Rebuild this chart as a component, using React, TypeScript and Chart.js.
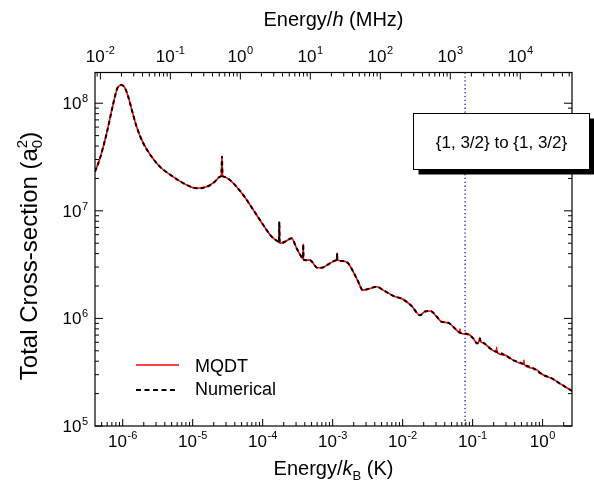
import React, { useEffect, useRef } from "react";
import { Chart, registerables } from "chart.js";

Chart.register(...registerables);

// ---------- data ----------
const energyK = [
  4.02e-7, 4.74e-7, 5.9e-7, 7.35e-7, 8.38e-7, 9.0e-7, 9.5e-7, 1.02e-6, 1.08e-6, 1.2e-6,
  1.35e-6, 1.58e-6, 1.97e-6, 2.59e-6, 3.41e-6, 5.28e-6, 8.2e-6, 1.14e-5, 1.58e-5, 2.08e-5,
  2.45e-5, 2.57e-5, 2.62e-5, 2.67e-5, 2.8e-5, 3.63e-5, 5.28e-5, 7.35e-5, 1.02e-4, 1.35e-4,
  1.67e-4, 1.71e-4, 1.73e-4, 1.75e-4, 1.8e-4, 2.08e-4, 2.59e-4, 3.06e-4, 3.7e-4, 3.78e-4,
  3.8e-4, 3.83e-4, 3.98e-4, 4.74e-4, 6.03e-4, 6.97e-4, 9.14e-4, 1.14e-3, 1.155e-3, 1.16e-3,
  1.165e-3, 1.42e-3, 1.67e-3, 1.97e-3, 2.32e-3, 2.69e-3, 3.41e-3, 4.26e-3, 5.28e-3, 7.35e-3,
  1.02e-2, 1.35e-2, 1.77e-2, 2.08e-2, 2.51e-2, 3.06e-2, 3.61e-2, 4.49e-2, 5.58e-2, 6.55e-2,
  6.6e-2, 6.65e-2, 8.65e-2, 1.02e-1, 1.16e-1, 1.25e-1, 1.27e-1, 1.3e-1, 1.42e-1, 1.77e-1,
  2.18e-1, 2.2e-1, 2.22e-1, 2.89e-1, 3.8e-1, 5.38e-1, 5.41e-1, 5.44e-1, 7.36e-1, 1.02,
  1.35, 1.77, 2.63,
];

const mqdtSigma = [
  2.31e7, 3.08e7, 5.26e7, 1.0e8, 1.38e8, 1.46e8, 1.48e8, 1.45e8, 1.38e8, 1.15e8,
  8.67e7, 6.05e7, 4.25e7, 3.18e7, 2.57e7, 2.07e7, 1.74e7, 1.62e7, 1.67e7, 1.87e7,
  2.07e7, 2.14e7, 3.2e7, 2.12e7, 2.07e7, 1.86e7, 1.4e7, 1.02e7, 7.38e6, 5.74e6,
  5.16e6, 5.11e6, 7.9e6, 5.05e6, 4.99e6, 5.16e6, 5.55e6, 4.48e6, 3.63e6, 3.6e6,
  4.9e6, 3.56e6, 3.48e6, 3.48e6, 2.96e6, 2.96e6, 3.25e6, 3.48e6, 3.49e6, 4.03e6,
  3.49e6, 3.41e6, 3.25e6, 2.71e6, 2.19e6, 1.83e6, 1.9e6, 1.97e6, 1.83e6, 1.62e6,
  1.5e6, 1.3e6, 1.07e6, 1.16e6, 1.17e6, 1.04e6, 9.29e5, 9.1e5, 8.07e5, 7.38e5,
  8.0e5, 7.34e5, 7.1e5, 6.52e5, 5.85e5, 6.3e5, 6.6e5, 6.1e5, 5.93e5, 5.26e5,
  4.9e5, 5.4e5, 4.88e5, 4.56e5, 4.09e5, 3.76e5, 4.1e5, 3.74e5, 3.44e5, 2.98e5,
  2.77e5, 2.48e5, 2.12e5,
];

const numericalSigma = [
  2.31e7, 3.08e7, 5.26e7, 1.0e8, 1.38e8, 1.46e8, 1.48e8, 1.45e8, 1.38e8, 1.15e8,
  8.67e7, 6.05e7, 4.25e7, 3.18e7, 2.57e7, 2.07e7, 1.74e7, 1.62e7, 1.67e7, 1.87e7,
  2.07e7, 2.14e7, 3.2e7, 2.12e7, 2.07e7, 1.86e7, 1.4e7, 1.02e7, 7.38e6, 5.74e6,
  5.16e6, 5.11e6, 7.9e6, 5.05e6, 4.99e6, 5.16e6, 5.55e6, 4.48e6, 3.63e6, 3.6e6,
  4.9e6, 3.56e6, 3.48e6, 3.48e6, 2.96e6, 2.96e6, 3.25e6, 3.48e6, 3.49e6, 4.03e6,
  3.49e6, 3.41e6, 3.25e6, 2.71e6, 2.19e6, 1.83e6, 1.9e6, 1.97e6, 1.83e6, 1.62e6,
  1.5e6, 1.3e6, 1.07e6, 1.16e6, 1.17e6, 1.04e6, 9.29e5, 9.1e5, 8.07e5, 7.38e5,
  7.36e5, 7.34e5, 7.1e5, 6.52e5, 5.85e5, 6.3e5, 6.5e5, 6.1e5, 5.93e5, 5.26e5,
  4.9e5, 4.89e5, 4.88e5, 4.56e5, 4.09e5, 3.76e5, 3.75e5, 3.74e5, 3.44e5, 2.98e5,
  2.77e5, 2.48e5, 2.12e5,
];

const xMinK = 4.02e-7;
const xMaxK = 2.63;
const yMin = 1e5;
const yMax = 1.93e8;
const kelvinToMHz = 20836.6;
const thresholdK = 0.078;

const bottomTickExps = [-6, -5, -4, -3, -2, -1, 0];
const topTickExps = [-2, -1, 0, 1, 2, 3, 4];
const leftTickExps = [5, 6, 7, 8];

const seriesLabels = ["MQDT", "Numerical"];
const boxText = "{1, 3/2} to {1, 3/2}";

// ---------- styling ----------
const FONT = '"Liberation Sans", Arial, sans-serif';
const TICK_PX = 17;
const SUP_PX = 11;
const TITLE_PX = 20;
const YTITLE_PX = 24;

function minorValues(min: number, max: number) {
  const out: { v: number; major: boolean }[] = [];
  const d0 = Math.floor(Math.log10(min));
  const d1 = Math.ceil(Math.log10(max));
  for (let d = d0; d <= d1; d++) {
    for (let m = 1; m <= 9; m++) {
      const v = m * Math.pow(10, d);
      if (v >= min * 0.9999 && v <= max * 1.0001) out.push({ v, major: m === 1 });
    }
  }
  return out;
}

function drawPow(
  ctx: CanvasRenderingContext2D,
  exp: number,
  x: number,
  baseline: number,
  align: "center" | "right",
  supRise: number
) {
  ctx.font = `${TICK_PX}px ${FONT}`;
  const w1 = ctx.measureText("10").width;
  ctx.font = `${SUP_PX}px ${FONT}`;
  const es = String(exp);
  const w2 = ctx.measureText(es).width;
  const total = w1 + w2 + 0.5;
  const left = align === "center" ? x - total / 2 : x - total;
  ctx.textAlign = "left";
  ctx.textBaseline = "alphabetic";
  ctx.font = `${TICK_PX}px ${FONT}`;
  ctx.fillText("10", left, baseline);
  ctx.font = `${SUP_PX}px ${FONT}`;
  ctx.fillText(es, left + w1 + 0.5, baseline - supRise);
}

type Piece = { t: string; font: string; dy: number; noAdvance?: boolean };

function drawPieces(ctx: CanvasRenderingContext2D, pieces: Piece[], cx: number, baseline: number) {
  let total = 0;
  const widths = pieces.map((p) => {
    ctx.font = p.font;
    return ctx.measureText(p.t).width;
  });
  pieces.forEach((p, i) => {
    if (!p.noAdvance) total += widths[i];
  });
  let x = cx - total / 2;
  ctx.textAlign = "left";
  ctx.textBaseline = "alphabetic";
  pieces.forEach((p, i) => {
    ctx.font = p.font;
    ctx.fillText(p.t, x, baseline + p.dy);
    if (!p.noAdvance) x += widths[i];
  });
}

const decorPlugin = {
  id: "decor",
  beforeDatasetsDraw(chart: any) {
    const { ctx, chartArea } = chart;
    const xs = chart.scales.x;
    const px = xs.getPixelForValue(thresholdK);
    ctx.save();
    ctx.strokeStyle = "#1a1aa8";
    ctx.lineWidth = 1.3;
    ctx.setLineDash([1.3, 2.6]);
    ctx.beginPath();
    ctx.moveTo(px, chartArea.top);
    ctx.lineTo(px, chartArea.bottom);
    ctx.stroke();
    ctx.restore();
  },
  afterDraw(chart: any) {
    const { ctx, chartArea } = chart;
    const { left, right, top, bottom } = chartArea;
    const xs = chart.scales.x;
    const xt = chart.scales.x2;
    const ys = chart.scales.y;
    ctx.save();

    // frame
    ctx.strokeStyle = "#000";
    ctx.lineWidth = 1.2;
    ctx.setLineDash([]);
    ctx.strokeRect(left, top, right - left, bottom - top);

    // ticks (inward)
    ctx.lineWidth = 1;
    ctx.beginPath();
    for (const t of minorValues(xMinK, xMaxK)) {
      const p = xs.getPixelForValue(t.v);
      const len = t.major ? 7 : 4;
      ctx.moveTo(p, bottom);
      ctx.lineTo(p, bottom - len);
    }
    for (const t of minorValues(xMinK * kelvinToMHz, xMaxK * kelvinToMHz)) {
      const p = xt.getPixelForValue(t.v);
      const len = t.major ? 7 : 4;
      ctx.moveTo(p, top);
      ctx.lineTo(p, top + len);
    }
    for (const t of minorValues(yMin, yMax)) {
      const p = ys.getPixelForValue(t.v);
      const len = t.major ? 8 : 4;
      ctx.moveTo(left, p);
      ctx.lineTo(left + len, p);
      ctx.moveTo(right, p);
      ctx.lineTo(right - len, p);
    }
    ctx.stroke();

    // tick labels
    ctx.fillStyle = "#000";
    for (const e of bottomTickExps) {
      drawPow(ctx, e, xs.getPixelForValue(Math.pow(10, e)), bottom + 21, "center", 8);
    }
    for (const e of topTickExps) {
      drawPow(ctx, e, xt.getPixelForValue(Math.pow(10, e)), top - 11, "center", 8);
    }
    for (const e of leftTickExps) {
      drawPow(ctx, e, left - 7, ys.getPixelForValue(Math.pow(10, e)) + 6, "right", 7);
    }

    // axis titles
    const tf = `${TITLE_PX}px ${FONT}`;
    const tfi = `italic ${TITLE_PX}px ${FONT}`;
    const sf = `13px ${FONT}`;
    const cx = (left + right) / 2;
    drawPieces(
      ctx,
      [
        { t: "Energy/", font: tf, dy: 0 },
        { t: "h", font: tfi, dy: 0 },
        { t: " (MHz)", font: tf, dy: 0 },
      ],
      cx,
      26
    );
    drawPieces(
      ctx,
      [
        { t: "Energy/", font: tf, dy: 0 },
        { t: "k", font: tfi, dy: 0 },
        { t: "B", font: sf, dy: 5 },
        { t: " (K)", font: tf, dy: 0 },
      ],
      cx,
      475
    );
    const yf = `${YTITLE_PX}px ${FONT}`;
    const ysf = `15px ${FONT}`;
    ctx.save();
    ctx.translate(37, 256);
    ctx.rotate(-Math.PI / 2);
    drawPieces(
      ctx,
      [
        { t: "Total Cross-section (a", font: yf, dy: 0 },
        { t: "0", font: ysf, dy: 5, noAdvance: true },
        { t: "2", font: ysf, dy: -10 },
        { t: ")", font: yf, dy: 0 },
      ],
      0,
      0
    );
    ctx.restore();

    // legend
    const lx = left + 41;
    ctx.lineWidth = 1.5;
    ctx.strokeStyle = "#ff0000";
    ctx.beginPath();
    ctx.moveTo(lx, 365);
    ctx.lineTo(lx + 43, 365);
    ctx.stroke();
    ctx.lineWidth = 2;
    ctx.strokeStyle = "#000";
    ctx.setLineDash([5, 3.5]);
    ctx.beginPath();
    ctx.moveTo(lx, 390);
    ctx.lineTo(lx + 40, 390);
    ctx.stroke();
    ctx.setLineDash([]);
    ctx.font = `18px ${FONT}`;
    ctx.textAlign = "left";
    ctx.fillStyle = "#000";
    ctx.fillText(seriesLabels[0], lx + 59, 372);
    ctx.fillText(seriesLabels[1], lx + 59, 395);

    // annotation box with shadow
    const bx = 413.5, by = 113.5, bw = 176, bh = 56;
    ctx.fillStyle = "#000";
    ctx.fillRect(bx + 5, by + 5, bw, bh);
    ctx.fillStyle = "#fff";
    ctx.fillRect(bx, by, bw, bh);
    ctx.strokeStyle = "#000";
    ctx.lineWidth = 1;
    ctx.strokeRect(bx, by, bw, bh);
    ctx.fillStyle = "#000";
    ctx.font = `17px ${FONT}`;
    ctx.textAlign = "center";
    ctx.fillText(boxText, bx + bw / 2, 148);

    ctx.restore();
  },
};

export default function App() {
  const ref = useRef<HTMLCanvasElement | null>(null);
  useEffect(() => {
    document.body.style.margin = "0";
    const canvas = ref.current;
    if (!canvas) return;
    const mk = (vals: number[]) => energyK.map((e, i) => ({ x: e, y: vals[i] }));
    const hidden = {
      ticks: { display: false },
      grid: { display: false },
      border: { display: false },
    };
    const chart = new Chart(canvas, {
      type: "line",
      data: {
        datasets: [
          {
            label: seriesLabels[0],
            data: mk(mqdtSigma),
            borderColor: "#ff0000",
            borderWidth: 1.6,
            pointRadius: 0,
            cubicInterpolationMode: "monotone",
            order: 2,
            xAxisID: "x",
            yAxisID: "y",
          },
          {
            label: seriesLabels[1],
            data: mk(numericalSigma),
            borderColor: "#000000",
            borderWidth: 2,
            borderDash: [4, 3],
            pointRadius: 0,
            cubicInterpolationMode: "monotone",
            order: 1,
            xAxisID: "x",
            yAxisID: "y",
          },
        ],
      },
      options: {
        animation: false,
        responsive: false,
        events: [],
        layout: { padding: { left: 0, right: 22, top: 0, bottom: 0 } },
        plugins: { legend: { display: false }, tooltip: { enabled: false } },
        scales: {
          x: {
            type: "logarithmic",
            position: "bottom",
            min: xMinK,
            max: xMaxK,
            ...hidden,
            afterFit: (s: any) => {
              s.height = 61;
            },
          },
          x2: {
            type: "logarithmic",
            position: "top",
            min: xMinK * kelvinToMHz,
            max: xMaxK * kelvinToMHz,
            ...hidden,
            afterFit: (s: any) => {
              s.height = 72.5;
            },
          },
          y: {
            type: "logarithmic",
            position: "left",
            min: yMin,
            max: yMax,
            ...hidden,
            afterFit: (s: any) => {
              s.width = 95;
            },
          },
        },
      } as any,
      plugins: [decorPlugin as any],
    });
    return () => chart.destroy();
  }, []);
  return (
    <div style={{ position: "absolute", left: 0, top: 0, width: 594, height: 487 }}>
      <canvas ref={ref} width={594} height={487} style={{ width: 594, height: 487 }} />
    </div>
  );
}
